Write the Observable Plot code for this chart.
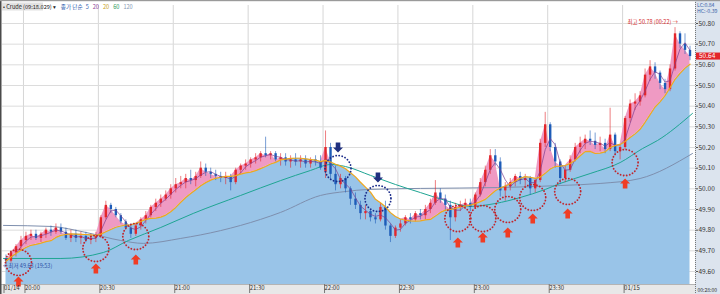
<!DOCTYPE html>
<html><head><meta charset="utf-8">
<script src="https://cdn.jsdelivr.net/npm/d3@7"></script>
<script src="https://cdn.jsdelivr.net/npm/@observablehq/plot@0.6"></script>
<style>body{margin:0;background:#fff} #chart svg{display:block}</style>
</head><body><div id="chart"></div>
<script>
// ---- data (2-minute bars) ----
const startTime = "2015-01-14T19:53:00Z";
const barMinutes = 2;
const open = [49.66,49.65,49.69,49.72,49.75,49.77,49.78,49.76,49.78,49.80,
49.79,49.81,49.79,49.76,49.78,49.76,49.77,49.75,49.76,49.77,
49.86,49.92,49.90,49.87,49.84,49.81,49.78,49.82,49.85,49.87,
49.91,49.93,49.95,49.97,50.00,50.02,50.03,50.05,50.04,50.06,
50.10,50.08,50.07,50.06,50.05,50.06,50.03,50.09,50.11,50.12,
50.14,50.15,50.17,50.16,50.17,50.14,50.15,50.13,50.14,50.13,
50.14,50.12,50.14,50.13,50.08,50.20,50.07,50.02,50.05,50.00,
49.95,49.92,49.88,49.89,49.86,49.85,49.91,49.82,49.77,49.81,
49.83,49.86,49.85,49.88,49.87,49.90,49.93,49.98,49.95,49.92,
49.86,49.91,49.92,49.93,49.91,49.97,50.03,50.09,50.16,50.13,
49.99,50.01,50.03,50.06,50.04,50.05,50.00,50.04,50.22,50.31,
50.20,50.13,50.05,50.09,50.14,50.20,50.22,50.24,50.23,50.21,
50.22,50.19,50.26,50.18,50.20,50.34,50.41,50.42,50.45,50.55,
50.59,50.56,50.51,50.48,50.58,50.75,50.70,50.67];
const close = [49.65,49.69,49.72,49.75,49.77,49.78,49.76,49.78,49.80,49.79,
49.81,49.79,49.76,49.78,49.76,49.77,49.75,49.76,49.77,49.86,
49.92,49.90,49.87,49.84,49.81,49.78,49.82,49.85,49.87,49.91,
49.93,49.95,49.97,50.00,50.02,50.03,50.05,50.04,50.06,50.10,
50.08,50.07,50.06,50.05,50.06,50.03,50.09,50.11,50.12,50.14,
50.15,50.17,50.16,50.17,50.14,50.15,50.13,50.14,50.13,50.14,
50.12,50.14,50.13,50.10,50.20,50.07,50.02,50.05,50.00,49.95,
49.92,49.88,49.89,49.86,49.85,49.91,49.82,49.77,49.81,49.83,
49.86,49.85,49.88,49.87,49.90,49.93,49.98,49.95,49.92,49.86,
49.91,49.92,49.93,49.91,49.97,50.03,50.09,50.16,50.13,49.99,
50.01,50.03,50.06,50.04,50.05,50.00,50.04,50.22,50.31,50.20,
50.13,50.05,50.09,50.14,50.20,50.22,50.24,50.23,50.21,50.22,
50.19,50.26,50.18,50.20,50.34,50.41,50.42,50.45,50.55,50.59,
50.56,50.51,50.48,50.58,50.75,50.70,50.67,50.64];
const high = [49.68,49.70,49.73,49.77,49.79,49.80,49.80,49.79,49.81,49.82,
49.83,49.83,49.81,49.80,49.80,49.79,49.79,49.78,49.79,49.87,
49.94,49.93,49.91,49.88,49.85,49.83,49.83,49.86,49.89,49.92,
49.95,49.97,49.99,50.02,50.05,50.06,50.07,50.09,50.08,50.13,
50.12,50.10,50.09,50.08,50.08,50.07,50.10,50.12,50.14,50.15,
50.17,50.18,50.25,50.18,50.18,50.17,50.17,50.16,50.17,50.16,
50.16,50.15,50.16,50.16,50.28,50.22,50.11,50.07,50.06,50.01,
49.98,49.94,49.92,49.90,49.88,49.93,49.94,49.83,49.82,49.85,
49.87,49.88,49.89,49.90,49.92,49.95,50.04,50.00,49.97,49.94,
49.93,49.94,49.95,49.95,49.98,50.05,50.11,50.19,50.19,50.15,
50.03,50.05,50.07,50.08,50.07,50.06,50.05,50.24,50.37,50.32,
50.22,50.14,50.11,50.16,50.22,50.25,50.26,50.28,50.27,50.25,
50.24,50.39,50.27,50.21,50.35,50.43,50.46,50.47,50.58,50.62,
50.61,50.57,50.53,50.60,50.78,50.76,50.75,50.69];
const low = [49.63,49.64,49.67,49.70,49.73,49.75,49.75,49.74,49.76,49.77,
49.78,49.78,49.75,49.74,49.74,49.73,49.74,49.73,49.74,49.76,
49.85,49.88,49.86,49.83,49.80,49.76,49.77,49.80,49.83,49.86,
49.89,49.91,49.94,49.95,49.98,50.00,50.00,50.02,50.01,50.05,
50.06,50.05,50.04,50.03,50.02,49.99,50.02,50.07,50.09,50.10,
50.12,50.13,50.15,50.14,50.13,50.11,50.11,50.10,50.11,50.10,
50.10,50.10,50.11,50.09,50.05,50.04,49.99,50.00,49.98,49.92,
49.90,49.85,49.85,49.84,49.83,49.84,49.80,49.74,49.76,49.79,
49.82,49.83,49.84,49.85,49.85,49.88,49.92,49.93,49.89,49.75,
49.84,49.89,49.90,49.89,49.90,49.96,50.01,50.07,50.11,49.96,
49.94,49.99,50.01,50.02,50.01,49.97,49.98,50.03,50.20,50.18,
50.10,50.02,50.03,50.08,50.13,50.17,50.19,50.21,50.19,50.18,
50.17,50.18,50.16,50.14,50.19,50.32,50.38,50.40,50.44,50.52,
50.53,50.48,50.46,50.47,50.57,50.68,50.65,50.62];

// moving averages 60 / 120
const ma60Times = ["19:52","20:15","20:32","20:42","20:55","21:08","21:27","21:43","21:55","22:03","22:09","22:19","22:29","22:39","22:49","22:59","23:09","23:19","23:29","23:35","23:47","23:59","00:08","00:14","00:28"];
const ma60Values = [49.663,49.663,49.692,49.750,49.813,49.881,49.968,50.040,50.089,50.118,50.108,50.065,50.021,49.982,49.944,49.915,49.929,49.958,49.997,50.026,50.074,50.127,50.195,50.234,50.365];
const ma120Times = ["19:52","20:11","20:25","20:39","20:48","21:03","21:19","21:27","21:43","21:59","22:09","22:18","22:39","23:10","23:35","23:51","00:07","00:28"];
const ma120Values = [49.823,49.818,49.789,49.750,49.736,49.760,49.798,49.823,49.886,49.968,49.987,49.997,50.002,50.006,50.016,50.026,50.050,50.171];

const priceTicks = [49.6,49.7,49.8,49.9,50.0,50.1,50.2,50.3,50.4,50.5,50.6,50.7,50.8];
const timeTickTimes = ["19:51:36","20:00","20:30","21:00","21:30","22:00","22:30","23:00","23:30","00:00"];
const timeTickLabels = ["01/14","20:00","20:30","21:00","21:30","22:00","22:30","23:00","23:30","01/15"];

// signals: buy (red) and sell (navy)
const buyTimes = ["19:58","20:29","20:45","22:54","23:04","23:14","23:24","23:38","00:01"];
const buyCirclePrices = [49.644,49.711,49.769,49.856,49.856,49.900,49.958,49.987,50.127];
const buyArrowPrices = [49.552,49.615,49.658,49.740,49.765,49.789,49.856,49.881,50.026];
const sellTimes = ["22:06","22:22"];
const sellCirclePrices = [50.098,49.953];
const sellArrowPrices = [50.200,50.055];

const lastPrice = 50.64;
const highLabel = "최고 50.78 (00:22) →";
const lowLabel = "←최저 49.63 (19:53)";

// ---- helpers ----
function toDate(hm){
  const parts = hm.split(":").map(Number);
  const h = parts[0], m = parts[1], s = parts[2] || 0;
  const day = h < 12 ? 15 : 14;
  return new Date(Date.UTC(2015,0,day,h,m,s));
}
function sma(arr,w){ return arr.map((_,i)=>d3.mean(arr.slice(Math.max(0,i-w+1),i+1))); }
const ma5 = sma(close,3);   // 5 one-minute bars ~ 3 two-minute bars
const ma20 = sma(close,10); // 20 one-minute bars = 10 two-minute bars
const t0 = new Date(startTime).getTime();
const bars = close.map((c,i)=>({t:new Date(t0+i*barMinutes*60000),o:open[i],h:high[i],l:low[i],c,ma5:ma5[i],ma20:ma20[i]}));
const ma60 = ma60Times.map((t,i)=>({t:toDate(t),v:ma60Values[i]}));
const ma120 = ma120Times.map((t,i)=>({t:toDate(t),v:ma120Values[i]}));
const buyC = buyTimes.map((t,i)=>({t:toDate(t),p:buyCirclePrices[i]}));
const buyA = buyTimes.map((t,i)=>({t:toDate(t),p:buyArrowPrices[i]}));
const sellC = sellTimes.map((t,i)=>({t:toDate(t),p:sellCirclePrices[i]}));
const sellA = sellTimes.map((t,i)=>({t:toDate(t),p:sellArrowPrices[i]}));
const tickDates = timeTickTimes.map(toDate);
const tickLabelOf = new Map(tickDates.map((d,i)=>[+d,timeTickLabels[i]]));
const hiBar = bars.reduce((a,b)=>b.h>a.h?b:a);
const loBar = bars.reduce((a,b)=>b.l<a.l?b:a);

const upArrow = {draw(ctx,size){const r=Math.sqrt(size/Math.PI);const s=r*0.46;
  ctx.moveTo(0,-r);ctx.lineTo(r,0);ctx.lineTo(s,0);ctx.lineTo(s,r);ctx.lineTo(-s,r);ctx.lineTo(-s,0);ctx.lineTo(-r,0);ctx.closePath();}};
const downArrow = {draw(ctx,size){const r=Math.sqrt(size/Math.PI);const s=r*0.46;
  ctx.moveTo(0,r);ctx.lineTo(r,0);ctx.lineTo(s,0);ctx.lineTo(s,-r);ctx.lineTo(-s,-r);ctx.lineTo(-s,0);ctx.lineTo(-r,0);ctx.closePath();}};

const RED="#e3262b", BLUE="#1d5cb8";
const yBottom = 49.5371, yTop = 50.8871;
const FONT = "'Noto Sans CJK KR','DejaVu Sans',sans-serif";

const chart = Plot.plot({
  width:720, height:294, marginLeft:2, marginRight:25, marginTop:5, marginBottom:10,
  style:{fontFamily:FONT, fontSize:"6px", background:"white", overflow:"visible"},
  x:{type:"utc", domain:[toDate("19:51:36"), toDate("00:29:12")], label:null},
  y:{domain:[yBottom,yTop], label:null},
  color:{type:"identity"},
  marks:[
    Plot.gridX(tickDates.slice(1),{stroke:"#d6d6d6",strokeOpacity:1}),
    Plot.gridY(priceTicks,{stroke:"#dcdcdc",strokeOpacity:1}),
    Plot.areaY(bars,{x:"t",y1:yBottom,y2:"ma20",fill:"#99c4e8"}),
    Plot.areaY(bars,{x:"t",y1:"ma20",y2:d=>Math.max(d.c,d.ma20),fill:"#ef9ac3"}),
    Plot.line(ma120,{x:"t",y:"v",stroke:"#7e8fae",strokeWidth:1,curve:"monotone-x"}),
    Plot.line(ma60,{x:"t",y:"v",stroke:"#1fa593",strokeWidth:1,curve:"monotone-x"}),
    Plot.ruleX(bars,{x:"t",y1:"l",y2:"h",stroke:d=>d.c>=d.o?RED:BLUE,strokeWidth:0.8,strokeOpacity:0.75}),
    Plot.ruleX(bars,{x:"t",y1:"o",y2:d=>Math.abs(d.c-d.o)<0.004?d.o+0.004:d.c,stroke:d=>d.c>=d.o?RED:BLUE,strokeWidth:2.4}),
    Plot.lineY(bars,{x:"t",y:"ma5",stroke:"#7d3c8f",strokeWidth:0.7}),
    Plot.lineY(bars,{x:"t",y:"ma20",stroke:"#f0a71c",strokeWidth:1.2}),
    Plot.dot(buyC,{x:"t",y:"p",r:13,stroke:"#c0252c",strokeWidth:1.8,strokeDasharray:"0.1 3",strokeLinecap:"round",fill:"none"}),
    Plot.dot(sellC,{x:"t",y:"p",r:13,stroke:"#1b2c8a",strokeWidth:1.8,strokeDasharray:"0.1 3",strokeLinecap:"round",fill:"none"}),
    Plot.dot(buyA,{x:"t",y:"p",r:5,symbol:upArrow,fill:"#f03c24",stroke:"none"}),
    Plot.dot(sellA,{x:"t",y:"p",r:5,symbol:downArrow,fill:"#1f2f7f",stroke:"none"}),
    Plot.text([hiBar],{x:"t",y:"h",text:()=>highLabel,textAnchor:"end",dx:3,dy:-5,fill:"#d42a2a",fontSize:5.5}),
    Plot.text([loBar],{x:"t",y:"l",text:()=>lowLabel,textAnchor:"start",dx:-3,dy:1,fill:"#2d4fa5",fontSize:5.5}),
    Plot.axisX(tickDates,{tickFormat:d=>tickLabelOf.get(+d),tickSize:9,tickPadding:-8,textAnchor:"start",dx:1.5,fontSize:6,fill:"#333",stroke:"#777",label:null}),
    Plot.axisY(priceTicks,{anchor:"right",tickSize:2,tickPadding:1,tickFormat:d=>d.toFixed(2),fontSize:6.5,fill:"#333",stroke:"#555",label:null})
  ]
});
document.getElementById("chart").append(chart);

// ---- chrome: strips, borders, header ----
const svg = d3.select(chart);
const ys = chart.scale("y");
const first = chart.querySelector("g, rect, path, line, text");
function under(tag){ return svg.insert(tag, () => first); }
function label(x,y,txt,fill,size){
  return svg.append("text").attr("x",x).attr("y",y).attr("fill",fill).attr("font-size",size)
    .attr("font-family",FONT).attr("text-anchor","start").text(txt);
}
under("rect").attr("x",0).attr("y",284).attr("width",720).attr("height",10).attr("fill","#e8e8e8");
under("line").attr("x1",0).attr("x2",720).attr("y1",284.5).attr("y2",284.5).attr("stroke","#b4b4b4");
under("rect").attr("x",695).attr("y",0).attr("width",25).attr("height",294).attr("fill","#dce4ee");
svg.append("line").attr("x1",695.5).attr("x2",695.5).attr("y1",0).attr("y2",294).attr("stroke","#777").attr("stroke-dasharray","1,1");
svg.append("rect").attr("x",0).attr("y",0).attr("width",1.5).attr("height",294).attr("fill","#4a4a4a");
svg.append("rect").attr("x",0).attr("y",0).attr("width",720).attr("height",1.2).attr("fill","#9a9a9a");
// current price box
const yp = ys.apply(lastPrice);
svg.append("rect").attr("x",696).attr("y",yp-3.5).attr("width",24).attr("height",7).attr("fill","#e3262b");
label(699, yp+2.2, lastPrice.toFixed(2), "white", 6.5);
// corner texts
label(697, 6.5, "LC:0.84", "#3a5ea8", 5.2);
label(697, 12.5, "HC:-0.39", "#3a5ea8", 5.2);
label(697.5, 292, "00:28:00", "#333", 5);
// header legend
svg.append("rect").attr("x",2).attr("y",2.5).attr("width",41).attr("height",8).attr("fill","#e2e2e2");
const ht = svg.append("text").attr("x",3).attr("y",9).attr("font-size",5.6).attr("font-family",FONT).attr("text-anchor","start");
ht.append("tspan").attr("fill","#222").text("• Crude (09:18.029) ▾");
ht.append("tspan").attr("fill","#3060b0").attr("dx",5).text("종가 단순");
ht.append("tspan").attr("fill","#3060b0").attr("dx",3).text("5");
ht.append("tspan").attr("fill","#8b3d9a").attr("dx",4).text("20");
ht.append("tspan").attr("fill","#c8a020").attr("dx",4).text("20");
ht.append("tspan").attr("fill","#2a9a60").attr("dx",4).text("60");
ht.append("tspan").attr("fill","#8597b3").attr("dx",4).text("120");
</script>
</body></html>
